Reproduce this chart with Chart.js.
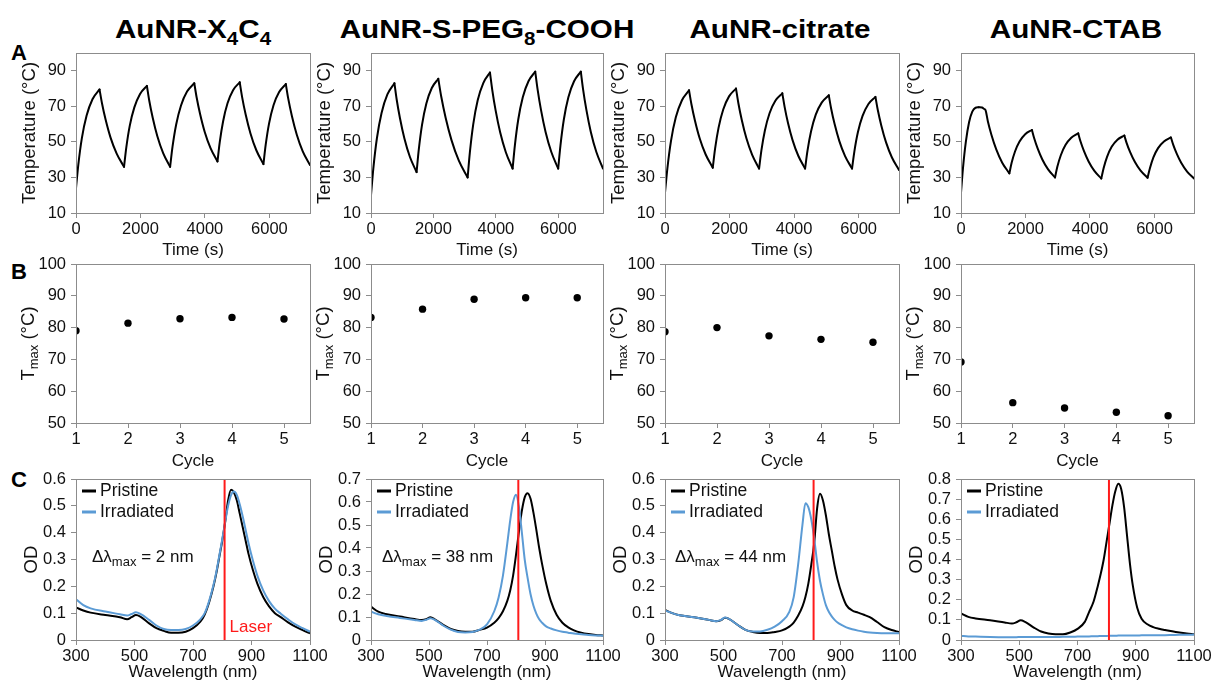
<!DOCTYPE html>
<html>
<head>
<meta charset="utf-8">
<script src="https://cdn.jsdelivr.net/npm/chart.js@4.4.1/dist/chart.umd.min.js"></script>
<style>
  body { margin: 0; width: 1212px; height: 686px; overflow: hidden; position: relative; background: #fff;
         font-family: "Liberation Sans", Arial, sans-serif; color: #000; }
  .panel { position: absolute; }
  .col-title { position: absolute; top: 16px; width: 340px; text-align: center; font-weight: bold;
               font-size: 26px; line-height: 1; transform: scaleX(1.14); white-space: nowrap; }
  .col-title sub { font-size: 18px; vertical-align: -7px; line-height: 0; }
  .letter { position: absolute; left: 11px; font-weight: bold; font-size: 22px; line-height: 1; }
</style>
</head>
<body>
<div class="col-title" style="left:23px">AuNR-X<sub>4</sub>C<sub>4</sub></div>
<div class="col-title" style="left:317px">AuNR-S-PEG<sub>8</sub>-COOH</div>
<div class="col-title" style="left:610px">AuNR-citrate</div>
<div class="col-title" style="left:906px">AuNR-CTAB</div>
<div class="letter" style="top:42px">A</div>
<div class="letter" style="top:261px">B</div>
<div class="letter" style="top:469px">C</div>

<script>
// ---- row A: heating / cooling cycles (time in s, temperature in °C)
const timeX4C4 = [0,73,182,329,511,730, 806,920,1072,1262,1490, 1561,1667,1810,1987,2200, 2272,2380,2524,2704,2920,
  2995,3108,3258,3445,3670, 3742,3850,3994,4174,4390, 4459,4563,4701,4873,5080, 5154,5264,5411,5595,5815,
  5885,5989,6128,6302,6510, 6585,6698,6848,7035,7260];
const tempX4C4 = [24,37.3,52.1,64.8,74,79.5, 71.7,62.4,52.4,43.4,36, 46.9,59,69.4,77,81.5, 73.3,63.6,53.2,43.7,36,
  47.3,59.8,70.5,78.3,83, 75.1,65.7,55.6,46.5,39, 49.7,61.5,71.7,79.1,83.5, 75.2,65.4,54.9,45.3,37.5,
  48.3,60.3,70.6,78,82.5, 74.3,64.6,54.2,44.7,37];

const timePEG = [0,75,188,338,525,750, 821,928,1070,1247,1460, 1530,1634,1773,1947,2155, 2249,2390,2578,2813,3095,
  3167,3274,3417,3596,3810, 3883,3991,4136,4318,4535, 4608,4716,4861,5043,5260, 5334,5444,5591,5775,5995,
  6068,6176,6321,6503,6720, 6791,6898,7040,7217,7430];
const tempPEG = [20,35.1,51.9,66.3,76.7,83, 74,63.3,51.9,41.5,33, 45.6,59.6,71.6,80.3,85.5, 75.5,63.6,51,39.4,30,
  44.2,59.9,73.4,83.1,89, 79.3,67.7,55.4,44.2,35, 48.1,62.6,75.1,84.1,89.5, 79.7,68,55.6,44.3,35,
  48.1,62.6,75.1,84.1,89.5, 79.7,68,55.6,44.3,35];

const timeCitrate = [0,75,186,335,522,745, 819,929,1076,1260,1480, 1552,1660,1804,1984,2200, 2272,2379,2522,2701,2915,
  2987,3095,3239,3419,3635, 3706,3811,3952,4129,4340, 4414,4524,4671,4855,5075, 5147,5255,5399,5579,5795,
  5868,5976,6121,6303,6520, 6593,6703,6849,7031,7250];
const tempCitrate = [21.5,35.3,50.6,63.8,73.3,79, 71.2,61.9,51.9,42.9,35.5, 46.2,58,68.2,75.6,80, 71.9,62.3,52,42.7,35,
  45.2,56.4,66.1,73.1,77.3, 69.7,60.6,51,42.2,35, 44.9,55.8,65.3,72.1,76.2, 68.8,60,50.6,42,35,
  44.7,55.4,64.6,71.3,75.3, 67.9,59.1,49.7,41.2,34.2];

const timeCTAB = [0,60,150,250,350,450,550,650,720,760, 834,945,1093,1278,1500, 1570,1675,1815,1990,2200,
  2272,2379,2522,2701,2915, 2987,3095,3239,3419,3635, 3707,3814,3957,4136,4350, 4422,4529,4672,4851,5065,
  5137,5245,5389,5569,5785, 5858,5966,6111,6293,6510, 6582,6689,6832,7011,7225];
const tempCTAB = [21.4,35,50,61,67,69.2,69.5,69.3,68.5,67.9, 61.5,53.9,45.8,38.3,32.3, 38.2,44.6,50.2,54.3,56.7,
  51.9,46.2,40.1,34.5,30, 36,42.5,48.2,52.3,54.8, 50.2,44.8,39,33.7,29.4, 35.2,41.6,47.2,51.2,53.6,
  49.3,44.2,38.8,33.8,29.8, 35.2,41.3,46.5,50.2,52.5, 48.3,43.4,38.1,33.3,29.4];

// ---- row B: maximum temperature per cycle
const cycles = [1, 2, 3, 4, 5];
const tmaxX4C4 = [79.0, 81.4, 82.8, 83.2, 82.7];
const tmaxPEG = [83.2, 85.8, 88.9, 89.4, 89.4];
const tmaxCitrate = [78.7, 80.0, 77.4, 76.3, 75.4];
const tmaxCTAB = [69.2, 56.4, 54.7, 53.4, 52.3];

// ---- row C: extinction spectra
const wavelength = [300,325,350,400,450,475,490,505,520,550,575,600,625,650,675,700,725,740,755,770,780,790,800,
  810,820,830,840,850,860,870,880,890,905,920,940,960,980,1000,1025,1050,1075,1100];
const odX4C4Pristine = [.121,.11,.102, .093,.085,.077,.085,.093,.087, .062,.044,.034,.027,.027,.031,.044,
  .068,.095,.14,.2,.25,.31,.37, .44,.52,.56,.55,.52,.47,.42,.37,.32, .26,.21,.16,.125,.10,.085, .066,.05,.037,.025];
const odX4C4Irradiated = [.152,.13,.118, .106,.096,.091,.097,.103,.097, .075,.054,.041,.037,.037,.041,.054,
  .077,.10,.145,.205,.255,.315,.375, .44,.50,.54,.553,.54,.505,.46,.41,.36, .295,.24,.185,.145,.117,.098, .077,.058,.044,.031];
const odPEGPristine = [.145,.123,.113, .102,.091,.087,.09,.099,.09, .065,.048,.039,.036,.036,.044,.054,
  .075,.095,.125,.17,.215,.28,.37, .47,.56,.62,.638,.615,.555,.48,.40,.33, .24,.17,.11,.075,.055,.042, .032,.026,.022,.02];
const odPEGIrradiated = [.123,.112,.105, .096,.087,.083,.088,.095,.088, .062,.045,.035,.033,.035,.045,.068,
  .125,.185,.28,.42,.52,.60,.632, .58,.47,.35,.27,.20,.15,.115,.09,.075, .058,.05,.042,.036,.032,.028, .025,.022,.02,.019];
const odCitratePristine = [.112,.1,.092, .085,.075,.07,.073,.083,.078, .055,.038,.03,.026,.026,.03,.036,
  .05,.065,.09,.125,.16,.21,.28, .36,.49,.545,.52,.465,.395,.335,.275,.225, .17,.13,.11,.102,.094,.085, .067,.048,.037,.03];
const odCitrateIrradiated = [.11,.1,.092, .085,.075,.07,.074,.084,.078, .055,.038,.032,.032,.038,.05,.07,
  .105,.16,.28,.43,.51,.495,.45, .38,.29,.22,.17,.13,.105,.088,.075,.065, .055,.047,.04,.035,.031,.028, .026,.025,.025,.025];
const odCTABPristine = [.132,.115,.107, .098,.087,.082,.088,.098,.09, .062,.042,.032,.028,.028,.037,.055,
  .09,.14,.19,.27,.33,.40,.49, .58,.67,.74,.776,.75,.66,.52,.38,.27, .16,.105,.078,.064,.056,.05, .043,.037,.032,.028];
const odCTABIrradiated = [.02,.018,.017, .015,.014,.014,.014,.015,.015, .015,.015,.015,.015,.016,.016,.017,
  .018,.018,.019,.019,.02,.02,.02, .021,.021,.021,.022,.022,.022,.022,.022,.022, .022,.023,.023,.023,.024,.024, .025,.026,.026,.027];
const laserWl = 808;
const shiftLabels = ['2 nm', '38 nm', '44 nm', null];

// ---- tick labels
const tickTime = [0, 2000, 4000, 6000];
const tickTemp = [10, 30, 50, 70, 90];
const tickCycle = [1, 2, 3, 4, 5];
const tickTmax = [50, 60, 70, 80, 90, 100];
const tickWl = [300, 500, 700, 900, 1100];
const tickOD = [
  [0, 0.1, 0.2, 0.3, 0.4, 0.5, 0.6],
  [0, 0.1, 0.2, 0.3, 0.4, 0.5, 0.6, 0.7],
  [0, 0.1, 0.2, 0.3, 0.4, 0.5, 0.6],
  [0, 0.1, 0.2, 0.3, 0.4, 0.5, 0.6, 0.7, 0.8],
];

// ---- layout
const FONT = '"Liberation Sans", Arial, sans-serif';
const AXIS = '#8c8c8c';
const INK = '#111';
const BLUE = '#5b9bd5';
const RED = '#ff1a1a';
const PAD_L = 75, PAD_T = 15, PAD_R = 35, PAD_B = 50;
const colLeft = [76, 371, 665, 961];
const colWidth = [234, 232, 234, 233];
const rowTop = [53, 264, 479];
const rowHeight = [160, 159, 161];
const xTitlePad = [2, 1, 7];

const framePlugin = {
  id: 'frame',
  afterDraw(chart) {
    const { ctx, chartArea: a } = chart;
    ctx.save();
    ctx.strokeStyle = AXIS;
    ctx.lineWidth = 1;
    ctx.strokeRect(Math.round(a.left) + 0.5, Math.round(a.top) + 0.5,
      Math.round(a.right - a.left), Math.round(a.bottom - a.top));
    ctx.restore();
  }
};

// rotated y title, with an optional subscript
const yTitlePlugin = {
  id: 'yTitle',
  afterDraw(chart, args, o) {
    if (!o || !o.text) return;
    const { ctx, chartArea: a } = chart;
    ctx.save();
    ctx.translate(a.left - o.dx, (a.top + a.bottom) / 2);
    ctx.rotate(-Math.PI / 2);
    ctx.fillStyle = INK;
    ctx.textBaseline = 'middle';
    const parts = [[o.text, '18.5px ' + FONT, 0], [o.sub || '', '13px ' + FONT, 5], [o.rest || '', '18.5px ' + FONT, 0]];
    let total = 0;
    parts.forEach(p => { ctx.font = p[1]; total += ctx.measureText(p[0]).width; });
    let x = -total / 2;
    parts.forEach(p => { ctx.font = p[1]; ctx.fillText(p[0], x, p[2]); x += ctx.measureText(p[0]).width; });
    ctx.restore();
  }
};

// legend, shift annotation and laser label of the spectra panels
const notesPlugin = {
  id: 'notes',
  afterDatasetsDraw(chart, args, o) {
    if (!o || !o.legend) return;
    const { ctx, chartArea: a } = chart;
    ctx.save();
    ctx.textBaseline = 'middle';
    ctx.font = '17.5px ' + FONT;
    chart.data.datasets.filter(d => d.legendRow !== undefined).forEach(d => {
      const y = a.top + 12 + d.legendRow * 21;
      ctx.strokeStyle = d.borderColor;
      ctx.lineWidth = 3;
      ctx.beginPath();
      ctx.moveTo(a.left + 6, y);
      ctx.lineTo(a.left + 20, y);
      ctx.stroke();
      ctx.fillStyle = INK;
      ctx.fillText(d.label, a.left + 24, y);
    });
    if (o.shift) {
      let x = a.left + o.shiftDx;
      const y = a.top + 78;
      ctx.font = '17px ' + FONT;
      ctx.fillText('Δλ', x, y);
      x += ctx.measureText('Δλ').width;
      ctx.font = '13px ' + FONT;
      ctx.fillText('max', x, y + 5);
      x += ctx.measureText('max').width;
      ctx.font = '17px ' + FONT;
      ctx.fillText(' = ' + o.shift, x, y);
    }
    if (o.laser) {
      ctx.fillStyle = RED;
      ctx.font = '17px ' + FONT;
      ctx.fillText('Laser', chart.scales.x.getPixelForValue(laserWl) + 5, a.bottom - 13);
    }
    ctx.restore();
  }
};

function axis(min, max, ticks, fmt, extra) {
  return Object.assign({
    type: 'linear', min, max,
    afterBuildTicks: s => { s.ticks = ticks.map(v => ({ value: v })); },
    grid: { display: true, drawOnChartArea: false, drawTicks: true, tickLength: 5, color: AXIS },
    border: { display: true, color: AXIS },
    ticks: { font: { family: FONT, size: 16.5 }, color: INK, maxRotation: 0, autoSkip: false,
             callback: fmt || (v => String(v)) },
  }, extra);
}

function addPanel(row, col, cfg) {
  const L = colLeft[col], W = colWidth[col], T = rowTop[row], H = rowHeight[row];
  const box = document.createElement('div');
  box.className = 'panel';
  box.style.left = (L - PAD_L) + 'px';
  box.style.top = (T - PAD_T) + 'px';
  box.style.width = (PAD_L + W + PAD_R) + 'px';
  box.style.height = (PAD_T + H + PAD_B) + 'px';
  const cv = document.createElement('canvas');
  box.appendChild(cv);
  document.body.appendChild(box);

  const x = axis(cfg.xMin, cfg.xMax, cfg.xTicks, cfg.xFmt, {
    afterFit: s => { s.height = PAD_B; },
    title: { display: true, text: cfg.xTitle, color: INK, font: { family: FONT, size: 17 },
             padding: { top: 0, bottom: xTitlePad[row] } },
  });
  x.ticks.padding = 2;
  const y = axis(cfg.yMin, cfg.yMax, cfg.yTicks, cfg.yFmt, { afterFit: s => { s.width = PAD_L; } });
  y.ticks.padding = 5;

  new Chart(cv, {
    type: cfg.type,
    data: { datasets: cfg.datasets },
    options: {
      responsive: true,
      maintainAspectRatio: false,
      animation: false,
      layout: { autoPadding: false, padding: { left: 0, top: PAD_T, right: PAD_R, bottom: 0 } },
      plugins: { legend: { display: false }, tooltip: { enabled: false }, yTitle: cfg.yTitle, notes: cfg.notes || {} },
      scales: { x, y },
    },
    plugins: [framePlugin, yTitlePlugin, notesPlugin],
  });
}

const pts = (xs, ys) => xs.map((v, i) => ({ x: v, y: ys[i] }));

// split a heating/cooling trace into its rising and falling runs, so each run
// gets a smooth monotone curve while the laser on/off corners stay sharp
function monotoneRuns(points) {
  const runs = [];
  let run = [points[0]];
  let dir = 0;
  for (let i = 1; i < points.length; i++) {
    const d = Math.sign(points[i].y - points[i - 1].y);
    if (dir !== 0 && d !== 0 && d !== dir) {
      runs.push(run);
      run = [points[i - 1]];
    }
    if (d !== 0) dir = d;
    run.push(points[i]);
  }
  runs.push(run);
  return runs;
}

const timeSeries = [[timeX4C4, tempX4C4], [timePEG, tempPEG], [timeCitrate, tempCitrate], [timeCTAB, tempCTAB]];
const tmaxSeries = [tmaxX4C4, tmaxPEG, tmaxCitrate, tmaxCTAB];
const spectra = [
  [odX4C4Pristine, odX4C4Irradiated], [odPEGPristine, odPEGIrradiated],
  [odCitratePristine, odCitrateIrradiated], [odCTABPristine, odCTABIrradiated],
];
const shiftDx = [16, 11, 10, 0];

for (let c = 0; c < 4; c++) {
  const [t, temp] = timeSeries[c];
  addPanel(0, c, {
    type: 'line',
    datasets: monotoneRuns(pts(t, temp)).map(run => ({
      data: run, borderColor: '#000', borderWidth: 2, pointRadius: 0,
      cubicInterpolationMode: 'monotone', borderCapStyle: 'round', borderJoinStyle: 'round',
    })),
    xMin: 0, xMax: t[t.length - 1], xTicks: tickTime, xTitle: 'Time (s)',
    yMin: 10, yMax: 100, yTicks: tickTemp,
    yTitle: { text: 'Temperature (°C)', dx: 46 },
  });

  addPanel(1, c, {
    type: 'scatter',
    datasets: [{ data: pts(cycles, tmaxSeries[c]), backgroundColor: '#000', borderWidth: 0, pointRadius: 3.7 }],
    xMin: 1, xMax: 5.5, xTicks: tickCycle, xTitle: 'Cycle',
    yMin: 50, yMax: 100, yTicks: tickTmax,
    yTitle: { text: 'T', sub: 'max', rest: ' (°C)', dx: 47 },
  });

  const odMax = tickOD[c][tickOD[c].length - 1];
  const [pristine, irradiated] = spectra[c];
  addPanel(2, c, {
    type: 'line',
    datasets: [
      { data: [{ x: laserWl, y: 0 }, { x: laserWl, y: odMax }], borderColor: RED, borderWidth: 2,
        pointRadius: 0, order: 0 },
      { label: 'Irradiated', legendRow: 1, data: pts(wavelength, irradiated), borderColor: BLUE, borderWidth: 2,
        pointRadius: 0, cubicInterpolationMode: 'monotone', order: 1 },
      { label: 'Pristine', legendRow: 0, data: pts(wavelength, pristine), borderColor: '#000', borderWidth: 2,
        pointRadius: 0, cubicInterpolationMode: 'monotone', order: 2 },
    ],
    xMin: 300, xMax: 1100, xTicks: tickWl, xTitle: 'Wavelength (nm)',
    yMin: 0, yMax: odMax, yTicks: tickOD[c], yFmt: v => (v === 0 ? '0' : v.toFixed(1)),
    yTitle: { text: 'OD', dx: 44 },
    notes: { legend: true, shift: shiftLabels[c], shiftDx: shiftDx[c], laser: c === 0 },
  });
}
</script>
</body>
</html>
